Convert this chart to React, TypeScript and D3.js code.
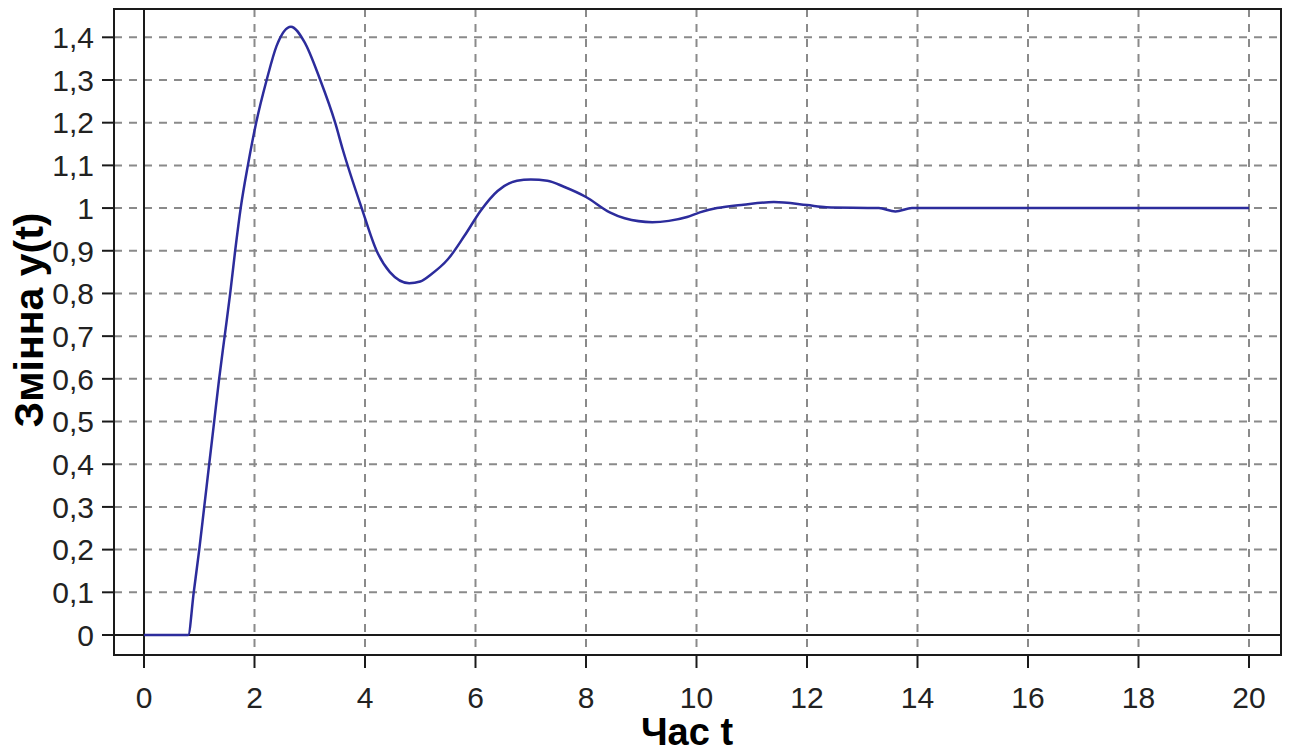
import { scaleLinear, line as d3Line, curveMonotoneX, range } from "d3";

const times = [
  0, 0.8, 0.9, 1.0, 1.09, 1.18, 1.27, 1.36, 1.46, 1.56, 1.65, 1.75, 1.88, 2.03, 2.22, 2.4, 2.66,
  2.9, 3.19, 3.46, 3.6, 3.94, 4.21, 4.45, 4.8, 5.0, 5.2, 5.5, 5.8, 6.1, 6.4, 6.75, 7.0, 7.3, 7.6,
  8.0, 8.43, 8.7, 9.2, 9.5, 9.83, 10.06, 10.37, 10.85, 11.4, 12.0, 12.35, 13.3, 13.6, 13.9, 20,
];
const values = [
  0, 0, 0.1, 0.2, 0.3, 0.4, 0.5, 0.6, 0.7, 0.8, 0.9, 1.0, 1.1, 1.2, 1.3, 1.38, 1.425,
  1.39, 1.3, 1.2, 1.136, 1.0, 0.9, 0.85, 0.824, 0.828, 0.845, 0.88, 0.935, 0.995, 1.04, 1.064, 1.067, 1.064, 1.05,
  1.026, 0.99, 0.976, 0.967, 0.97, 0.979, 0.99, 1.0, 1.008, 1.014, 1.007, 1.002, 1.0, 0.992, 1.0, 1.0,
];

const xTicks = range(0, 21, 2);
const yTicks = range(0, 15).map((i) => i / 10);
const formatY = (v: number) => (Math.round(v * 10) / 10).toString().replace(".", ",");

const xLabel = "Час t";
const yLabel = "Змінна y(t)";

export default function App() {
  const W = 1291;
  const H = 753;
  const frame = { left: 114, top: 9, right: 1281, bottom: 655 };

  const xScale = scaleLinear().domain([0, 20]).range([144, 1249]);
  const yScale = scaleLinear().domain([0, 1.4]).range([635, 37.3]);

  const points = times.map((t, i) => [t, values[i]] as [number, number]);
  const pathD =
    d3Line<[number, number]>()
      .x((d) => xScale(d[0]))
      .y((d) => yScale(d[1]))
      .curve(curveMonotoneX)(points) ?? "";

  const font = "'Liberation Sans', Arial, sans-serif";

  return (
    <svg
      width={W}
      height={H}
      style={{ position: "absolute", left: 0, top: 0, background: "#fff" }}
    >
      {/* grid */}
      {xTicks
        .filter((t) => t !== 0)
        .map((t) => (
          <line
            key={`gx-${t}`}
            x1={xScale(t)}
            x2={xScale(t)}
            y1={frame.top}
            y2={frame.bottom}
            stroke="#8a8a8a"
            strokeWidth={2}
            strokeDasharray="8 7"
          />
        ))}
      {yTicks
        .filter((t) => t !== 0)
        .map((t) => (
          <line
            key={`gy-${t}`}
            x1={frame.left}
            x2={frame.right}
            y1={yScale(t)}
            y2={yScale(t)}
            stroke="#8a8a8a"
            strokeWidth={2}
            strokeDasharray="8 7"
          />
        ))}

      {/* zero lines */}
      <line
        x1={xScale(0)}
        x2={xScale(0)}
        y1={frame.top}
        y2={frame.bottom}
        stroke="#1a1a1a"
        strokeWidth={2}
      />
      <line
        x1={frame.left}
        x2={frame.right}
        y1={yScale(0)}
        y2={yScale(0)}
        stroke="#1a1a1a"
        strokeWidth={2}
      />

      {/* frame */}
      <rect
        x={frame.left}
        y={frame.top}
        width={frame.right - frame.left}
        height={frame.bottom - frame.top}
        fill="none"
        stroke="#1a1a1a"
        strokeWidth={2}
      />

      {/* y axis */}
      {yTicks.map((t) => (
        <g key={`ya-${t}`} transform={`translate(0,${yScale(t)})`}>
          <line x1={102} x2={frame.left} stroke="#1a1a1a" strokeWidth={2} />
          <text
            x={94}
            dy="0.36em"
            textAnchor="end"
            fontFamily={font}
            fontSize={30}
            fill="#222"
          >
            {formatY(t)}
          </text>
        </g>
      ))}

      {/* x axis */}
      {xTicks.map((t) => (
        <g key={`xa-${t}`} transform={`translate(${xScale(t)},0)`}>
          <line y1={frame.bottom} y2={668} stroke="#1a1a1a" strokeWidth={2} />
          <text
            y={708}
            textAnchor="middle"
            fontFamily={font}
            fontSize={30}
            fill="#222"
          >
            {t}
          </text>
        </g>
      ))}

      {/* series */}
      <path d={pathD} fill="none" stroke="#2c2c9c" strokeWidth={2.5} strokeLinejoin="round" />

      {/* titles */}
      <text
        x={687}
        y={745}
        textAnchor="middle"
        fontFamily={font}
        fontWeight="bold"
        fontSize={38}
        fill="#000"
      >
        {xLabel}
      </text>
      <text
        transform="translate(43,320) rotate(-90)"
        textAnchor="middle"
        fontFamily={font}
        fontWeight="bold"
        fontSize={41}
        fill="#000"
      >
        {yLabel}
      </text>
    </svg>
  );
}
